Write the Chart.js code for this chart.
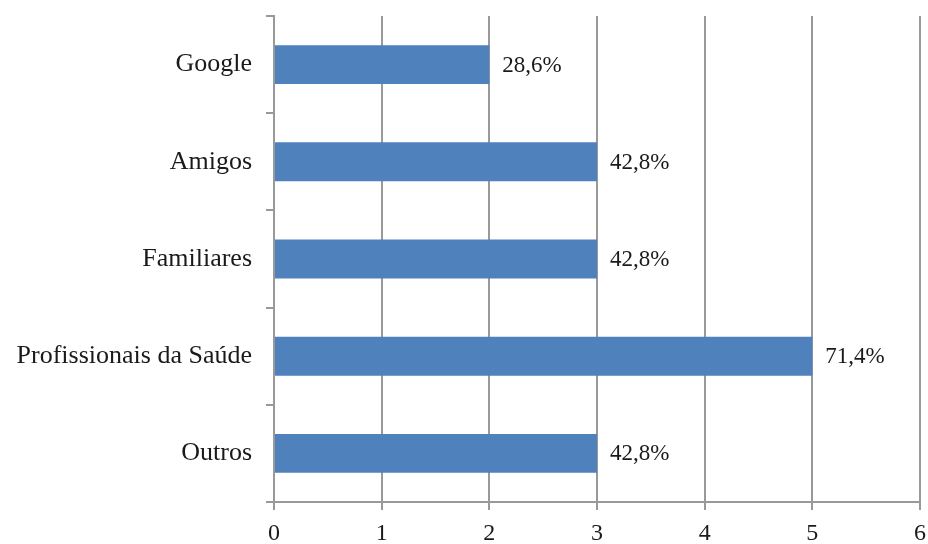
<!DOCTYPE html>
<html>
<head>
    <meta charset="utf-8">
    <title>Fontes de informação</title>
    <script src="https://cdn.jsdelivr.net/npm/chart.js@4"></script>
    <style>
        body {
            margin: 0;
            background: white;
        }
        #wrap {
            width: 928px;
            height: 544px;
        }
    </style>
</head>
<body>
    <div id="wrap"><canvas id="barChart"></canvas></div>

    <script>
        const categories = ['Google', 'Amigos', 'Familiares', 'Profissionais da Saúde', 'Outros'];
        const values = [2, 3, 3, 5, 3];
        const valueLabels = ['28,6%', '42,8%', '42,8%', '71,4%', '42,8%'];
        const xTicks = [0, 1, 2, 3, 4, 5, 6];

        const axisGray = '#999999';
        const serif = '"Liberation Serif", "Times New Roman", serif';

        // draws the percentage text to the right of each bar
        const barLabels = {
            id: 'barLabels',
            afterDatasetsDraw(chart) {
                const c = chart.ctx;
                const meta = chart.getDatasetMeta(0);
                c.save();
                c.font = '23px ' + serif;
                c.fillStyle = '#1a1a1a';
                c.textAlign = 'left';
                c.textBaseline = 'middle';
                meta.data.forEach((bar, i) => {
                    c.fillText(valueLabels[i], bar.x + 13, bar.y + 1);
                });
                c.restore();
            }
        };

        new Chart(document.getElementById('barChart'), {
            type: 'bar',
            data: {
                labels: categories,
                datasets: [{
                    data: values,
                    backgroundColor: '#4F81BD',
                    borderWidth: 0,
                    barPercentage: 0.4,
                    categoryPercentage: 1
                }]
            },
            options: {
                indexAxis: 'y',
                responsive: true,
                maintainAspectRatio: false,
                animation: false,
                layout: {
                    padding: { top: 16, right: 8, left: 0, bottom: 0 }
                },
                plugins: {
                    legend: { display: false },
                    tooltip: { enabled: false }
                },
                scales: {
                    x: {
                        min: 0,
                        max: 6,
                        afterBuildTicks: (scale) => {
                            scale.ticks = xTicks.map(v => ({ value: v }));
                        },
                        afterFit: (scale) => {
                            scale.height = 42;
                            scale.paddingLeft = 0;
                            scale.paddingRight = 0;
                        },
                        grid: {
                            color: axisGray,
                            lineWidth: 2,
                            drawTicks: true,
                            tickLength: 8,
                            tickColor: axisGray
                        },
                        border: { display: true, color: axisGray, width: 2 },
                        ticks: {
                            padding: 9,
                            color: '#1a1a1a',
                            font: { family: serif, size: 24 }
                        }
                    },
                    y: {
                        offset: true,
                        afterFit: (scale) => {
                            scale.width = 274;
                            scale.paddingTop = 0;
                            scale.paddingBottom = 0;
                        },
                        grid: {
                            offset: true,
                            drawOnChartArea: false,
                            drawTicks: true,
                            tickLength: 8,
                            color: axisGray,
                            lineWidth: 2
                        },
                        border: { display: true, color: axisGray, width: 2 },
                        ticks: {
                            padding: 14,
                            color: '#1a1a1a',
                            font: { family: serif, size: 26 }
                        }
                    }
                }
            },
            plugins: [barLabels]
        });
    </script>
</body>
</html>
